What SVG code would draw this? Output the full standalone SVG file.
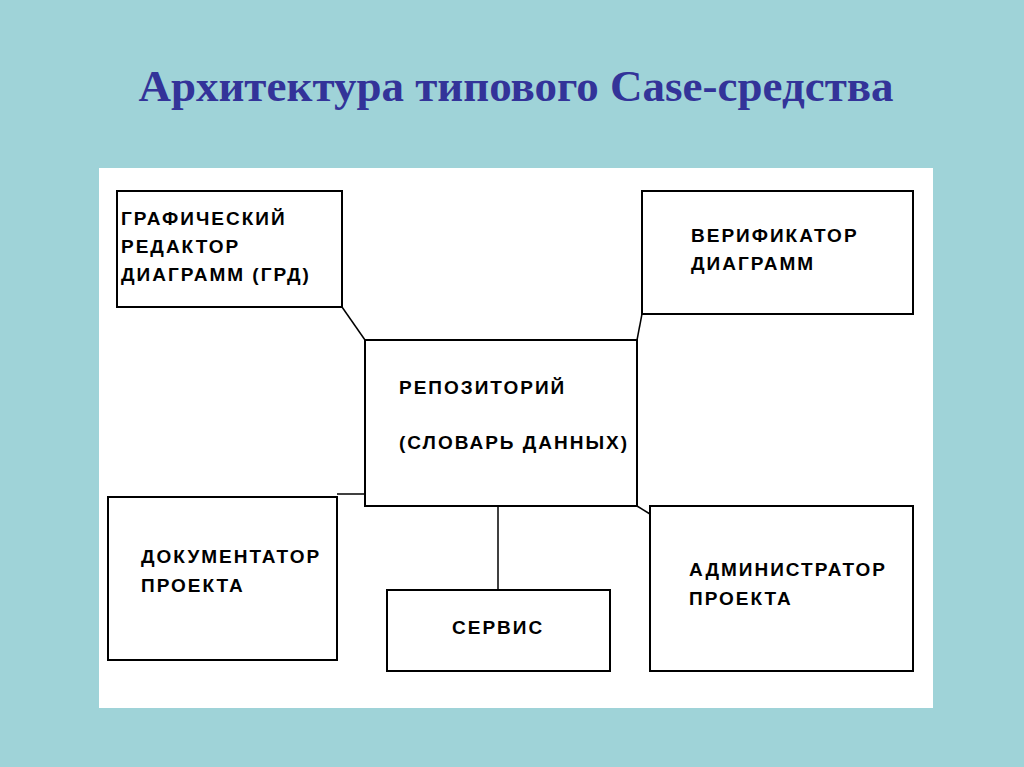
<svg xmlns="http://www.w3.org/2000/svg" width="1024" height="767" viewBox="0 0 1024 767">
<style>
.b{fill:#fff;stroke:#000;stroke-width:2}
.t{font-family:"Liberation Sans",Arial,sans-serif;font-weight:bold;font-size:19px;letter-spacing:2px;fill:#000}
.c{stroke:#000;stroke-width:1.5;fill:none}
</style>
<rect width="1024" height="767" fill="#9fd3d8"/>
<text x="516" y="101" text-anchor="middle" font-family="'Liberation Serif','Times New Roman',serif" font-weight="bold" font-size="45" fill="#333399">Архитектура типового Case-средства</text>
<rect x="99" y="168" width="834" height="540" fill="#fff"/>
<g id="connectors">
<path class="c" d="M342 307 L365 340"/>
<path class="c" d="M642 314 L637 340"/>
<path class="c" d="M337 494 L365 494"/>
<path class="c" d="M637 506 L650 514"/>
<path class="c" d="M498 506 L498 590"/>
</g>
<g id="grd"><rect class="b" x="117" y="191" width="225" height="116"/>
<text class="t" x="121" y="225">ГРАФИЧЕСКИЙ</text><text class="t" x="121" y="253">РЕДАКТОР</text><text class="t" x="121" y="281">ДИАГРАММ (ГРД)</text></g>
<g id="verif"><rect class="b" x="642" y="191" width="271" height="123"/>
<text class="t" x="691" y="242">ВЕРИФИКАТОР</text><text class="t" x="691" y="270">ДИАГРАММ</text></g>
<g id="repo"><rect class="b" x="365" y="340" width="272" height="166"/>
<text class="t" x="399" y="394">РЕПОЗИТОРИЙ</text><text class="t" x="399" y="449">(СЛОВАРЬ ДАННЫХ)</text></g>
<g id="doc"><rect class="b" x="108" y="497" width="229" height="163"/>
<text class="t" x="141" y="563">ДОКУМЕНТАТОР</text><text class="t" x="141" y="592">ПРОЕКТА</text></g>
<g id="serv"><rect class="b" x="387" y="590" width="223" height="81"/>
<text class="t" x="452" y="634">СЕРВИС</text></g>
<g id="admin"><rect class="b" x="650" y="506" width="263" height="165"/>
<text class="t" x="689" y="576">АДМИНИСТРАТОР</text><text class="t" x="689" y="605">ПРОЕКТА</text></g>
</svg>
